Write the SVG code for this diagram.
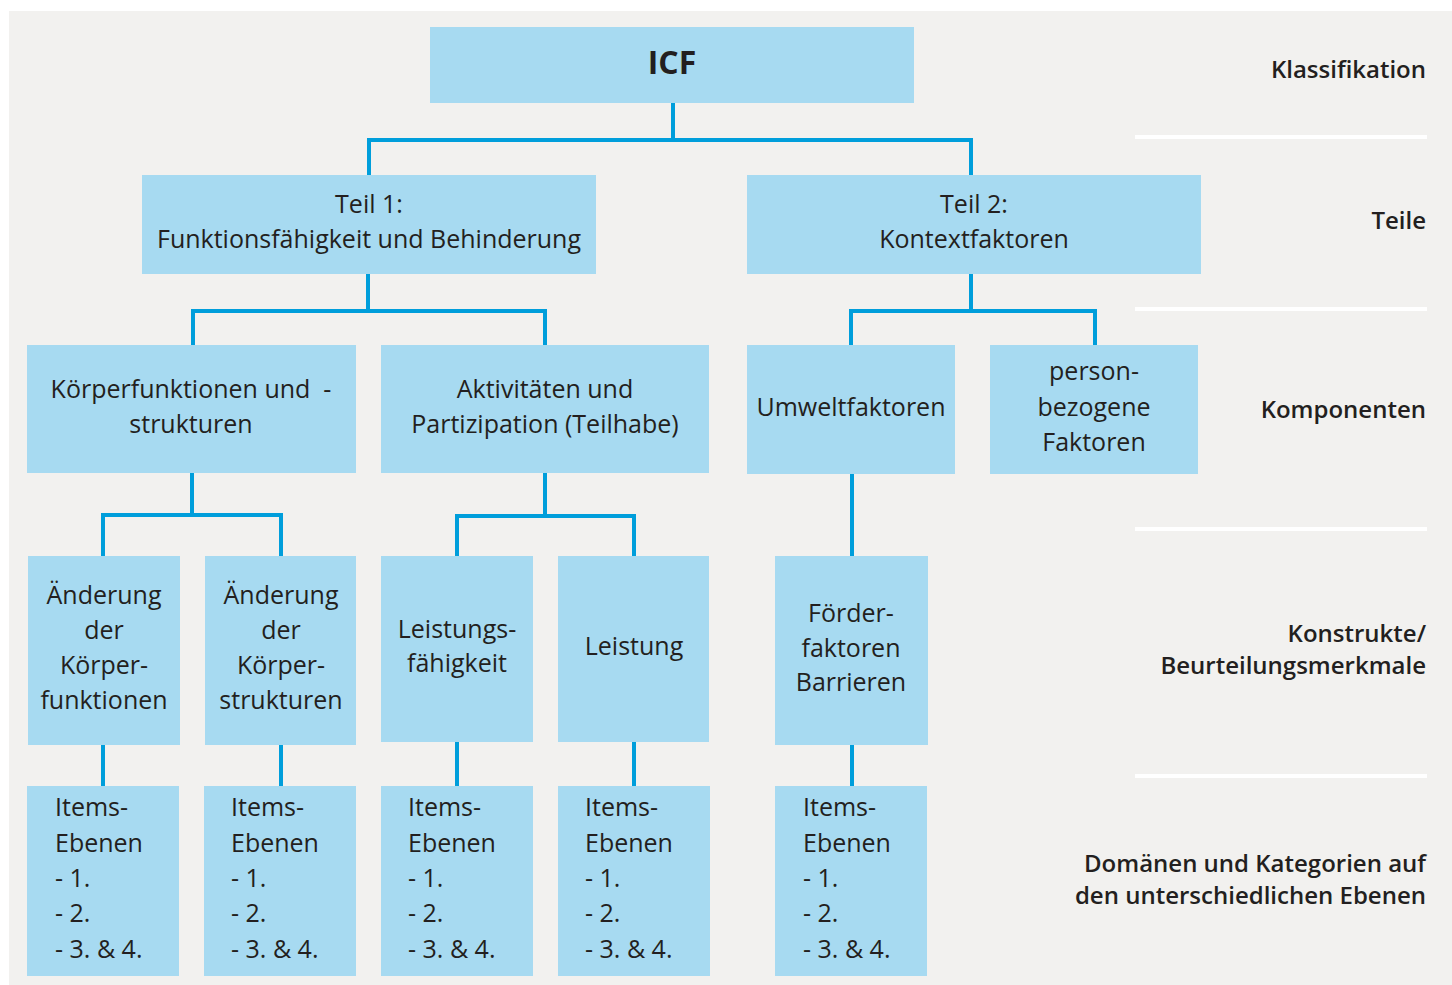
<svg xmlns="http://www.w3.org/2000/svg" width="1452" height="985" viewBox="0 0 1452 985">
<style>
.box{fill:#a7daf1}
.t{font-family:"Open Sans","Noto Sans",sans-serif;font-size:25px;fill:#231f20;text-anchor:middle}
.l{text-anchor:start}
.lab{font-family:"Open Sans","Noto Sans",sans-serif;font-size:24px;font-weight:600;fill:#231f20;text-anchor:end}
.c{fill:none;stroke:#009edb;stroke-width:4}
.sep{stroke:#ffffff;stroke-width:4}
</style>
<rect x="0" y="0" width="1452" height="985" fill="#ffffff"/>
<rect x="9" y="11" width="1443" height="974" fill="#f2f1ef"/>
<g id="separators">
<line class="sep" x1="1135" y1="137" x2="1427" y2="137"/>
<line class="sep" x1="1135" y1="309" x2="1427" y2="309"/>
<line class="sep" x1="1135" y1="529" x2="1427" y2="529"/>
<line class="sep" x1="1135" y1="776" x2="1427" y2="776"/>
</g>
<g id="labels">
<text class="lab" x="1426" y="78">Klassifikation</text>
<text class="lab" x="1426" y="229">Teile</text>
<text class="lab" x="1426" y="418">Komponenten</text>
<text class="lab" x="1426" y="642">Konstrukte/</text>
<text class="lab" x="1426" y="674">Beurteilungsmerkmale</text>
<text class="lab" x="1426" y="872">Domänen und Kategorien auf</text>
<text class="lab" x="1426" y="904">den unterschiedlichen Ebenen</text>
</g>
<g id="connectors">
<polyline class="c" points="673,103 673,140"/>
<polyline class="c" points="369,175 369,140 971,140 971,175"/>
<polyline class="c" points="368,274 368,311"/>
<polyline class="c" points="193,345 193,311 545,311 545,345"/>
<polyline class="c" points="971,274 971,311"/>
<polyline class="c" points="851,345 851,311 1095,311 1095,345"/>
<polyline class="c" points="192,473 192,515"/>
<polyline class="c" points="103,556 103,515 281,515 281,556"/>
<polyline class="c" points="545,473 545,516"/>
<polyline class="c" points="457,556 457,516 634,516 634,556"/>
<polyline class="c" points="852,474 852,556"/>
<polyline class="c" points="103,745 103,786"/>
<polyline class="c" points="281,745 281,786"/>
<polyline class="c" points="457,742 457,786"/>
<polyline class="c" points="634,742 634,786"/>
<polyline class="c" points="852,745 852,786"/>
</g>
<g id="icf">
<rect class="box" x="430" y="27" width="484" height="76"/>
<text class="t" x="672" y="74" style="font-size:32px;font-weight:700">ICF</text>
</g>
<g id="teil1">
<rect class="box" x="142" y="175" width="454" height="99"/>
<text class="t" x="369" y="213">Teil 1:</text>
<text class="t" x="369" y="248">Funktionsfähigkeit und Behinderung</text>
</g>
<g id="teil2">
<rect class="box" x="747" y="175" width="454" height="99"/>
<text class="t" x="974" y="213">Teil 2:</text>
<text class="t" x="974" y="248">Kontextfaktoren</text>
</g>
<g id="koerper">
<rect class="box" x="27" y="345" width="329" height="128"/>
<text class="t" x="191" y="398">Körperfunktionen und&#160; -</text>
<text class="t" x="191" y="433">strukturen</text>
</g>
<g id="aktivitaeten">
<rect class="box" x="381" y="345" width="328" height="128"/>
<text class="t" x="545" y="398">Aktivitäten und</text>
<text class="t" x="545" y="433">Partizipation (Teilhabe)</text>
</g>
<g id="umwelt">
<rect class="box" x="747" y="345" width="208" height="129"/>
<text class="t" x="851" y="416">Umweltfaktoren</text>
</g>
<g id="person">
<rect class="box" x="990" y="345" width="208" height="129"/>
<text class="t" x="1094" y="380">person-</text>
<text class="t" x="1094" y="416">bezogene</text>
<text class="t" x="1094" y="451">Faktoren</text>
</g>
<g id="aend-funk">
<rect class="box" x="28" y="556" width="152" height="189"/>
<text class="t" x="104" y="604">Änderung</text>
<text class="t" x="104" y="639">der</text>
<text class="t" x="104" y="674">Körper-</text>
<text class="t" x="104" y="709">funktionen</text>
</g>
<g id="aend-struk">
<rect class="box" x="205" y="556" width="151" height="189"/>
<text class="t" x="281" y="604">Änderung</text>
<text class="t" x="281" y="639">der</text>
<text class="t" x="281" y="674">Körper-</text>
<text class="t" x="281" y="709">strukturen</text>
</g>
<g id="leistungsfaehigkeit">
<rect class="box" x="381" y="556" width="152" height="186"/>
<text class="t" x="457" y="638">Leistungs-</text>
<text class="t" x="457" y="672">fähigkeit</text>
</g>
<g id="leistung">
<rect class="box" x="558" y="556" width="151" height="186"/>
<text class="t" x="634" y="655">Leistung</text>
</g>
<g id="foerder">
<rect class="box" x="775" y="556" width="153" height="189"/>
<text class="t" x="851" y="622">Förder-</text>
<text class="t" x="851" y="657">faktoren</text>
<text class="t" x="851" y="691">Barrieren</text>
</g>
<g id="items1">
<rect class="box" x="27" y="786" width="152" height="190"/>
<text class="t l" x="55" y="816">Items-</text>
<text class="t l" x="55" y="852">Ebenen</text>
<text class="t l" x="55" y="887">- 1.</text>
<text class="t l" x="55" y="922">- 2.</text>
<text class="t l" x="55" y="958">- 3. &amp; 4.</text>
</g>
<g id="items2">
<rect class="box" x="204" y="786" width="152" height="190"/>
<text class="t l" x="231" y="816">Items-</text>
<text class="t l" x="231" y="852">Ebenen</text>
<text class="t l" x="231" y="887">- 1.</text>
<text class="t l" x="231" y="922">- 2.</text>
<text class="t l" x="231" y="958">- 3. &amp; 4.</text>
</g>
<g id="items3">
<rect class="box" x="381" y="786" width="152" height="190"/>
<text class="t l" x="408" y="816">Items-</text>
<text class="t l" x="408" y="852">Ebenen</text>
<text class="t l" x="408" y="887">- 1.</text>
<text class="t l" x="408" y="922">- 2.</text>
<text class="t l" x="408" y="958">- 3. &amp; 4.</text>
</g>
<g id="items4">
<rect class="box" x="558" y="786" width="152" height="190"/>
<text class="t l" x="585" y="816">Items-</text>
<text class="t l" x="585" y="852">Ebenen</text>
<text class="t l" x="585" y="887">- 1.</text>
<text class="t l" x="585" y="922">- 2.</text>
<text class="t l" x="585" y="958">- 3. &amp; 4.</text>
</g>
<g id="items5">
<rect class="box" x="775" y="786" width="152" height="190"/>
<text class="t l" x="803" y="816">Items-</text>
<text class="t l" x="803" y="852">Ebenen</text>
<text class="t l" x="803" y="887">- 1.</text>
<text class="t l" x="803" y="922">- 2.</text>
<text class="t l" x="803" y="958">- 3. &amp; 4.</text>
</g>
</svg>
